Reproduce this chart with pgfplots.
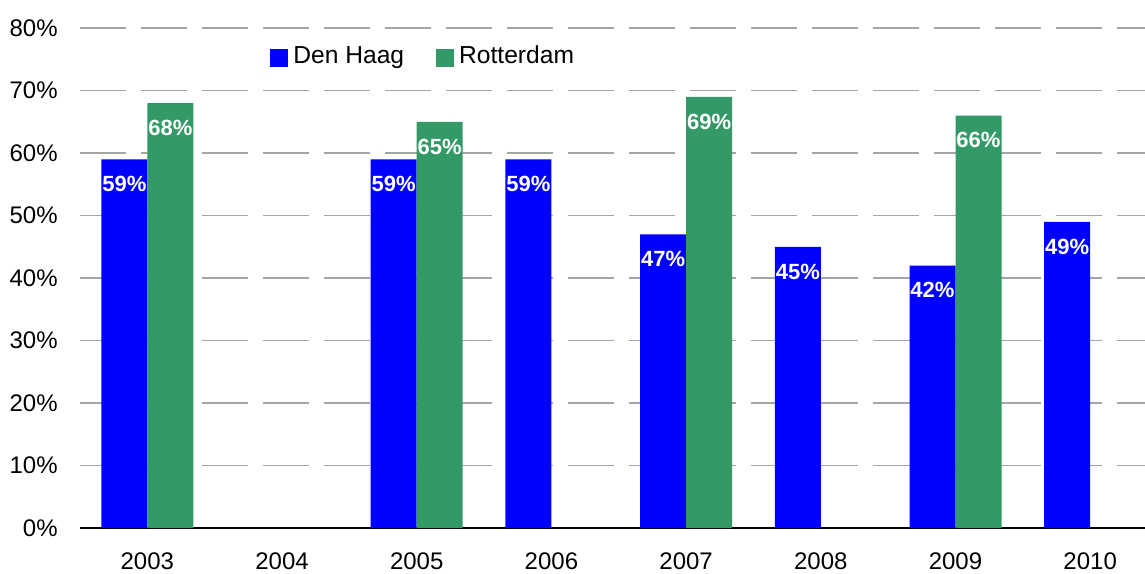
\documentclass[border=0pt]{standalone}
\usepackage{fontspec}
\setmainfont{Liberation Sans}
\usepackage{pgfplots}
\pgfplotsset{compat=1.18}
\definecolor{dh}{RGB}{0,0,255}
\definecolor{rd}{RGB}{51,153,102}
\definecolor{gridgray}{RGB}{165,165,165}
\begin{document}
\begin{tikzpicture}
\begin{axis}[
  at={(0,0)}, anchor=south west,
  scale only axis, width=532.5bp, height=250bp,
  xmin=-0.5, xmax=7.407, ymin=0, ymax=80,
  enlargelimits=false,
  /pgf/number format/assume math mode=true,
  xtick={0,1,2,3,4,5,6,7},
  xticklabels={2003,2004,2005,2006,2007,2008,2009,2010},
  ytick={0,10,20,30,40,50,60,70,80},
  yticklabels={0\%,10\%,20\%,30\%,40\%,50\%,60\%,70\%,80\%},
  axis x line*=bottom, axis y line*=left,
  x axis line style={black, line width=0.6bp},
  y axis line style={draw=none},
  major tick length=0pt,
  ymajorgrids,
  major grid style={gridgray, line width=0.7bp, dash pattern=on 23bp off 7.5bp},
  ticklabel style={font=\fontsize{12bp}{14bp}\selectfont},
  yticklabel style={anchor=east, inner sep=0pt, xshift=-11bp},
  xticklabel style={anchor=north, inner sep=0pt, yshift=-12.3bp},
  ybar, bar width=23bp,
  legend style={at={(0.1784,0.943)}, anchor=west, draw=none, fill=none,
    inner sep=0pt, legend columns=2,
    font=\fontsize{12.3bp}{14bp}\selectfont,
    nodes={inner sep=0pt},
    column sep=2.5bp,
    /tikz/every even column/.append style={column sep=16bp}},
  nodes near coords={\pgfmathprintnumber{\pgfplotspointmeta}\%},
  every node near coord/.append style={anchor=north, inner sep=0pt, yshift=-8.3bp,
    text=white, font=\fontsize{11bp}{13bp}\selectfont\bfseries},
]
\addplot[draw=none, fill=dh, bar shift=-11.5bp,
  legend image code/.code={\fill[dh] (0bp,-5.5bp) rectangle (9bp,3.5bp);}]
  coordinates {(0,59) (2,59) (3,59) (4,47) (5,45) (6,42) (7,49)};
\addlegendentry{Den Haag}
\addplot[draw=none, fill=rd, bar shift=11.5bp,
  legend image code/.code={\fill[rd] (0bp,-5.5bp) rectangle (9bp,3.5bp);}]
  coordinates {(0,68) (2,65) (4,69) (6,66)};
\addlegendentry{Rotterdam}
\end{axis}
\pgfresetboundingbox
\path[use as bounding box] (-40bp,-23bp) rectangle (532.5bp,264bp);
\end{tikzpicture}
\end{document}
